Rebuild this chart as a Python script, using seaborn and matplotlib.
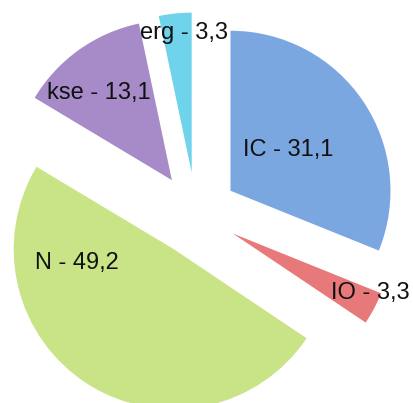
import math

import matplotlib
matplotlib.use("Agg")
import matplotlib.pyplot as plt
import seaborn as sns

categories = ["IC", "IO", "N", "kse", "erg"]
values = [31.1, 3.3, 49.2, 13.1, 3.3]
value_labels = ["31,1", "3,3", "49,2", "13,1", "3,3"]
colors = ["#7BA7E1", "#E8797A", "#C8E486", "#A78BC8", "#6FD3EC"]

sns.set_theme(style="white")
plt.rcParams["font.family"] = ["Liberation Sans", "DejaVu Sans"]

fig = plt.figure(figsize=(4.14, 4.03), dpi=100)
ax = fig.add_axes([0, 0, 1, 1])

wedges, _ = ax.pie(
    values,
    colors=colors,
    startangle=90,
    counterclock=False,
    explode=[0.26] * len(values),
    wedgeprops=dict(linewidth=0),
)

# label placement relative to each wedge's apex: (distance, angle in degrees)
label_offsets = [(0.44, 35), (0.935, -23.6), (0.61, 188), (0.71, 130), (0.875, 93)]
for w, cat, lab, (r, a) in zip(wedges, categories, value_labels, label_offsets):
    cx, cy = w.center
    ax.text(
        cx + r * math.cos(math.radians(a)),
        cy + r * math.sin(math.radians(a)),
        f"{cat} - {lab}",
        ha="center",
        va="center",
        fontsize=17,
        color="#111111",
    )

ax.set_xlim(-1.225, 1.3625)
ax.set_ylim(-1.18125, 1.3375)
ax.set_aspect("auto")
ax.axis("off")

fig.savefig("out.png", dpi=100, facecolor="white")
